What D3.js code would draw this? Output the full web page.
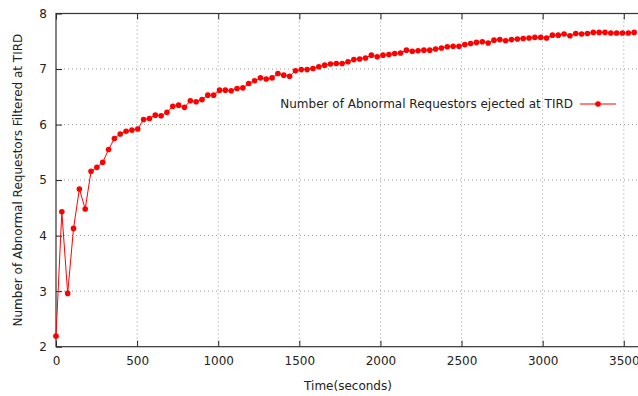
<!DOCTYPE html>
<html><head><meta charset="utf-8">
<script src="https://cdn.jsdelivr.net/npm/d3@7"></script>
<style>body{margin:0;background:#fff}svg{display:block}text{font-family:"DejaVu Sans",Verdana,sans-serif;fill:#222}</style>
</head><body>
<svg id="c" width="638" height="396"></svg>
<script>
const timeStep = 36;
const values = [2.19,4.43,2.96,4.13,4.84,4.48,5.16,5.23,5.32,5.55,
5.75,5.83,5.88,5.90,5.92,6.09,6.11,6.17,6.16,6.22,
6.33,6.35,6.31,6.43,6.41,6.45,6.53,6.53,6.62,6.62,
6.61,6.65,6.66,6.74,6.79,6.84,6.82,6.84,6.92,6.89,
6.87,6.97,6.99,6.99,7.01,7.04,7.07,7.09,7.10,7.10,
7.13,7.17,7.18,7.20,7.25,7.22,7.25,7.26,7.28,7.29,
7.34,7.32,7.33,7.34,7.34,7.36,7.38,7.40,7.41,7.41,
7.44,7.46,7.48,7.49,7.47,7.52,7.53,7.51,7.53,7.54,
7.55,7.56,7.57,7.57,7.56,7.61,7.61,7.63,7.60,7.64,
7.63,7.64,7.66,7.66,7.66,7.65,7.65,7.65,7.65,7.66];
const times = values.map((v,i)=>i*timeStep);
const xTicks = [0,500,1000,1500,2000,2500,3000,3500];
const yTicks = [2,3,4,5,6,7,8];
const seriesName = "Number of Abnormal Requestors ejected at TIRD";
const xTitle = "Time(seconds)";
const yTitle = "Number of Abnormal Requestors Filtered at TIRD";

const svg = d3.select("#c");
const L=56, R=640, T=13.5, B=346.7;
const x = d3.scaleLinear().domain([0,3600]).range([L,R]);
const y = d3.scaleLinear().domain([2,8]).range([B,T]);
const FS = "12px";

const g = svg.append("g");
g.selectAll(".gx").data(xTicks.slice(1)).join("line")
 .attr("x1",d=>x(d)).attr("x2",d=>x(d)).attr("y1",T).attr("y2",B)
 .attr("stroke","#999").attr("stroke-width",1).attr("stroke-dasharray","1,3");
g.selectAll(".gy").data(yTicks.slice(1,-1)).join("line")
 .attr("x1",L).attr("x2",R).attr("y1",d=>y(d)).attr("y2",d=>y(d))
 .attr("stroke","#999").attr("stroke-width",1).attr("stroke-dasharray","1,3");

const fmt = d3.format("d");
const xa = svg.append("g").attr("transform",`translate(0,${B})`)
 .call(d3.axisBottom(x).tickValues(xTicks).tickFormat(fmt).tickSize(-6).tickPadding(10));
const xt = svg.append("g").attr("transform",`translate(0,${T})`)
 .call(d3.axisTop(x).tickValues(xTicks).tickSize(-6).tickFormat(""));
const ya = svg.append("g").attr("transform",`translate(${L},0)`)
 .call(d3.axisLeft(y).tickValues(yTicks).tickFormat(fmt).tickSize(-6).tickPadding(9));
[xa,xt,ya].forEach(a=>{a.select(".domain").remove();a.selectAll("line").attr("stroke","#222");
 a.selectAll("text").style("font-size",FS).attr("fill","#222").style("font-family","DejaVu Sans,Verdana,sans-serif");});
svg.append("rect").attr("x",L).attr("y",T).attr("width",R-L).attr("height",B-T)
 .attr("fill","none").attr("stroke","#333").attr("stroke-width",1.2);

const line = d3.line().x((d,i)=>x(times[i])).y(d=>y(d));
svg.append("path").datum(values).attr("d",line).attr("fill","none").attr("stroke","#ff0000").attr("stroke-width",1);
svg.selectAll(".pt").data(values).join("circle")
 .attr("cx",(d,i)=>x(times[i])).attr("cy",d=>y(d)).attr("r",2.8).attr("fill","#ff0000");

svg.append("text").attr("x",573).attr("y",108).attr("text-anchor","end").style("font-size",FS).text(seriesName);
svg.append("line").attr("x1",580).attr("x2",616).attr("y1",104).attr("y2",104).attr("stroke","#ff0000");
svg.append("circle").attr("cx",598).attr("cy",104).attr("r",2.8).attr("fill","#ff0000");

svg.append("text").attr("x",(L+R)/2).attr("y",390).attr("text-anchor","middle").style("font-size",FS).text(xTitle);
svg.append("text").attr("transform",`translate(22,${(T+B)/2}) rotate(-90)`).attr("text-anchor","middle").style("font-size",FS).text(yTitle);
</script>
</body></html>
